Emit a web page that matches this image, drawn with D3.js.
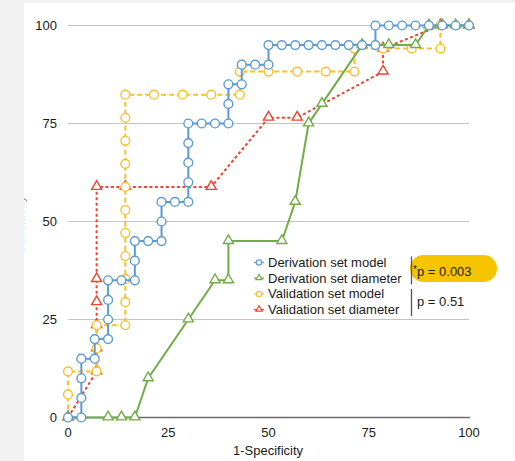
<!DOCTYPE html>
<html>
<head>
<meta charset="utf-8">
<script src="https://cdn.jsdelivr.net/npm/d3@7"></script>
<style>
  body { margin: 0; background: #f2f2f2; }
  text { font-family: "Liberation Sans", Arial, sans-serif; fill: #1a1a1a; }
</style>
</head>
<body>
<svg id="roc"></svg>
<script>
// ROC data (x = 1-specificity, y = sensitivity)
const derivModelX = [0, 3.33, 3.33, 3.33, 3.33, 6.67, 6.67, 10, 10, 10, 10, 13.33, 16.67, 16.67, 16.67, 20, 23.33, 23.33, 23.33, 26.67, 30, 30, 30, 30, 30, 33.33, 36.67, 40, 40, 40, 43.33, 43.33, 46.67, 50, 50, 53.33, 56.67, 60, 63.33, 66.67, 70, 73.33, 76.67, 76.67, 80, 83.33, 86.67, 90, 93.33, 96.67, 100];
const derivModelY = [0, 0, 5, 10, 15, 15, 20, 20, 25, 30, 35, 35, 35, 40, 45, 45, 45, 50, 55, 55, 55, 60, 65, 70, 75, 75, 75, 75, 80, 85, 85, 90, 90, 90, 95, 95, 95, 95, 95, 95, 95, 95, 95, 100, 100, 100, 100, 100, 100, 100, 100];

const derivDiamX = [0, 10, 13.33, 16.67, 20, 30, 36.67, 40, 40, 53.33, 56.67, 60, 63.33, 73.33, 80, 86.67, 90, 93.33, 96.67, 100];
const derivDiamY = [0, 0, 0, 0, 10, 25, 35, 35, 45, 45, 55, 75, 80, 95, 95, 95, 100, 100, 100, 100];

const validModelX = [0, 0, 0, 7.14, 7.14, 7.14, 14.29, 14.29, 14.29, 14.29, 14.29, 14.29, 14.29, 14.29, 14.29, 14.29, 14.29, 21.43, 28.57, 35.71, 42.86, 42.86, 50, 57.14, 64.29, 71.43, 71.43, 78.57, 85.71, 92.86, 92.86, 100];
const validModelY = [0, 5.88, 11.76, 11.76, 17.65, 23.53, 23.53, 29.41, 35.29, 41.18, 47.06, 52.94, 58.82, 64.71, 70.59, 76.47, 82.35, 82.35, 82.35, 82.35, 82.35, 88.24, 88.24, 88.24, 88.24, 88.24, 94.12, 94.12, 94.12, 94.12, 100, 100];

const validDiamX = [0, 7.14, 7.14, 7.14, 7.14, 7.14, 7.14, 14.29, 35.71, 50, 57.14, 78.57, 78.57, 92.86, 100];
const validDiamY = [0, 11.76, 17.65, 23.53, 29.41, 35.29, 58.82, 58.82, 58.82, 76.47, 76.47, 88.24, 94.12, 100, 100];

const xTicks = [0, 25, 50, 75, 100];
const yTicks = [0, 25, 50, 75, 100];
const legendLabels = ["Derivation set model", "Derivation set diameter", "Validation set model", "Validation set diameter"];
const pLabels = ["p = 0.003", "p = 0.51"];

const size = { width: 515, height: 461 };
const BLUE = "#5b9bd5", GREEN = "#70ad47", ORANGE = "#ffbf2a", RED = "#f5412e";

const series = [
  { xs: validDiamX, ys: validDiamY, color: RED, dash: "3,2.5", marker: "tri" },
  { xs: validModelX, ys: validModelY, color: ORANGE, dash: "5,3", marker: "circ" },
  { xs: derivDiamX, ys: derivDiamY, color: GREEN, dash: null, marker: "tri" },
  { xs: derivModelX, ys: derivModelY, color: BLUE, dash: null, marker: "circ" },
];

const svg = d3.select("#roc").attr("width", size.width).attr("height", size.height);

svg.append("rect").attr("width", size.width).attr("height", size.height).attr("fill", "#f2f2f2");
svg.append("rect").attr("x", 24).attr("y", 3).attr("width", size.width - 24).attr("height", size.height - 3).attr("fill", "#fff");

const x = d3.scaleLinear().domain([0, 100]).range([68, 469]);
const y = d3.scaleLinear().domain([0, 100]).range([417.5, 25.5]);

// gridlines
yTicks.slice(1).forEach((v) => {
  svg.append("line")
    .attr("x1", x(0)).attr("x2", x(100))
    .attr("y1", y(v)).attr("y2", y(v))
    .attr("stroke", "#c4c4c4").attr("stroke-width", 1.2);
});
svg.append("line")
  .attr("x1", x(0)).attr("x2", x(100) + 1)
  .attr("y1", y(0)).attr("y2", y(0))
  .attr("stroke", "#6e6e6e").attr("stroke-width", 1.5);

yTicks.forEach((v) => {
  svg.append("text").text(v)
    .attr("x", 57).attr("y", y(v)).attr("dy", "0.35em")
    .attr("text-anchor", "end").attr("font-size", 13);
});
xTicks.forEach((v) => {
  svg.append("text").text(v)
    .attr("x", x(v)).attr("y", 432).attr("dy", "0.35em")
    .attr("text-anchor", "middle").attr("font-size", 13);
});

svg.append("text").text("1-Specificity")
  .attr("x", 268).attr("y", 450).attr("dy", "0.35em")
  .attr("text-anchor", "middle").attr("font-size", 13);

// y title, mostly hidden behind the grey margin like in the screenshot
svg.append("text").text("Sensitivity")
  .attr("transform", "translate(23.5,225) rotate(-90)")
  .attr("text-anchor", "middle").attr("font-size", 13)
  .attr("opacity", 0.6);
svg.append("rect").attr("width", 24).attr("height", size.height).attr("fill", "#f2f2f2");
svg.append("rect").attr("width", size.width).attr("height", 3).attr("fill", "#f2f2f2");

const tri = d3.symbol().type(d3.symbolTriangle).size(44);
const triSmall = d3.symbol().type(d3.symbolTriangle).size(16);

const line = d3.line().x((d) => x(d[0])).y((d) => y(d[1]));

series.forEach((s) => {
  const pts = s.xs.map((v, i) => [v, s.ys[i]]);
  const g = svg.append("g");
  g.append("path")
    .attr("d", line(pts))
    .attr("fill", "none")
    .attr("stroke", s.color)
    .attr("stroke-width", 2)
    .attr("stroke-dasharray", s.dash);
  if (s.marker === "circ") {
    g.selectAll("circle").data(pts).enter().append("circle")
      .attr("cx", (d) => x(d[0])).attr("cy", (d) => y(d[1])).attr("r", 4.4)
      .attr("fill", "#fff").attr("stroke", s.color).attr("stroke-width", 1.4);
  } else {
    g.selectAll("path.m").data(pts).enter().append("path")
      .attr("class", "m")
      .attr("d", tri)
      .attr("transform", (d) => `translate(${x(d[0])},${y(d[1]) - 0.5})`)
      .attr("fill", "#fff").attr("stroke", s.color).attr("stroke-width", 1.4);
  }
});

// legend
const legend = svg.append("g");
const legendSeries = [series[3], series[2], series[1], series[0]];
legendLabels.forEach((label, i) => {
  const ly = 262.5 + i * 15.7;
  const s = legendSeries[i];
  legend.append("line")
    .attr("x1", 254).attr("x2", 264).attr("y1", ly).attr("y2", ly)
    .attr("stroke", s.color).attr("stroke-width", 1.3);
  if (s.marker === "circ") {
    legend.append("circle").attr("cx", 259).attr("cy", ly).attr("r", 2.6)
      .attr("fill", "#fff").attr("stroke", s.color).attr("stroke-width", 1.2);
  } else {
    legend.append("path").attr("d", triSmall)
      .attr("transform", `translate(259,${ly - 0.3})`)
      .attr("fill", "#fff").attr("stroke", s.color).attr("stroke-width", 1.2);
  }
  legend.append("text").text(label)
    .attr("x", 268).attr("y", ly).attr("dy", "0.35em").attr("font-size", 13);
});

legend.append("rect")
  .attr("x", 410).attr("y", 255).attr("width", 87).attr("height", 27).attr("rx", 13.5)
  .attr("fill", "#f7c400");
legend.append("line").attr("x1", 411.5).attr("x2", 411.5).attr("y1", 256.5).attr("y2", 284.5)
  .attr("stroke", "#555").attr("stroke-width", 1.3);
legend.append("line").attr("x1", 411.5).attr("x2", 411.5).attr("y1", 289).attr("y2", 316)
  .attr("stroke", "#555").attr("stroke-width", 1.3);
legend.append("text").text("*").attr("x", 413).attr("y", 273).attr("font-size", 10);
legend.append("text").text(pLabels[0]).attr("x", 417).attr("y", 276).attr("font-size", 13);
legend.append("text").text(pLabels[1]).attr("x", 417).attr("y", 306).attr("font-size", 13);
</script>
</body>
</html>
